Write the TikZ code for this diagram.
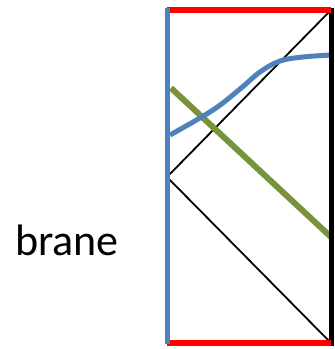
\documentclass[tikz,border=0pt]{standalone}
\usepackage{fontspec}
\setmainfont{Carlito}
\definecolor{braneblue}{RGB}{79,129,189}
\definecolor{lgreen}{RGB}{119,147,60}
\begin{document}
\begin{tikzpicture}[x=1pt,y=-1pt,
  thin line/.style={black,line width=1.8pt},
  bluel/.style={braneblue,line width=5pt},
  redl/.style={red,line width=6pt},
  greenl/.style={lgreen,line width=6pt}]
\useasboundingbox (0,0) rectangle (335,349);
\coordinate (TL) at (167,10);
\coordinate (TR) at (331,10);
\coordinate (BL) at (167,343);
\coordinate (BR) at (331,343);
\coordinate (M) at (167,177);
% thin black outline
\draw[black,line width=1pt] (TL) rectangle (BR);
% light-cone lines
\draw[thin line] (TR) -- (M) -- (BR);
% green line
\coordinate (G1) at (171,88);
\coordinate (G2) at (331,237);
\draw[greenl] (G1) -- (G2);
% blue curve
\draw[bluel] plot[smooth,tension=0.6] coordinates {(170,135) (213,110) (240,89) (260,72) (280,61) (303,57) (331,55)};
% boundaries
\draw[black,line width=5pt] (331,8) -- (331,346);
\draw[redl] (167,10) -- (331,10);
\draw[redl] (167,343) -- (331,343);
\draw[bluel] (167,8) -- (167,344);
\node[font=\fontsize{44}{50}\selectfont,inner sep=0pt] (brane) at (67,240) {brane};
\end{tikzpicture}
\end{document}
